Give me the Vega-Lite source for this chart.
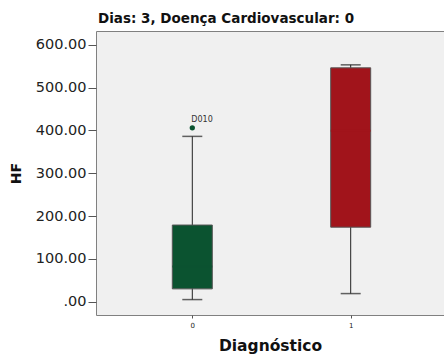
{
  "$schema": "https://vega.github.io/schema/vega-lite/v6.json",
  "width": 351,
  "height": 284,
  "autosize": {"type": "none"},
  "padding": {"left": 96, "top": 31, "right": 0, "bottom": 41},
  "background": "white",
  "title": {"text": "Dias: 3, Doença Cardiovascular: 0", "anchor": "start", "frame": "group", "font": "DejaVu Sans", "fontSize": 13.5, "fontWeight": "bold", "color": "#111", "offset": 6, "dx": 2},
  "config": {
    "view": {"fill": "#f0f0f0", "stroke": "#808080", "strokeWidth": 1},
    "axis": {"grid": false, "domain": false, "labelFont": "DejaVu Sans", "titleFont": "DejaVu Sans", "labelColor": "#222", "titleColor": "#111", "tickColor": "#555"}
  },
  "datasets": {
    "boxes": [
      {"Diagnostico": "0", "min": 5, "q1": 30, "median": 82, "q3": 179, "max": 386},
      {"Diagnostico": "1", "min": 19, "q1": 174, "median": 399, "q3": 546, "max": 553}
    ],
    "outliers": [
      {"Diagnostico": "0", "HF": 406, "label": "D010"}
    ]
  },
  "layer": [
    {
      "data": {"name": "boxes"},
      "mark": {"type": "rule", "color": "#222", "strokeWidth": 1},
      "encoding": {
        "x": {"field": "Diagnostico", "type": "ordinal", "scale": {"type": "point", "padding": 0.608}, "axis": {"title": "Diagnóstico", "titleX": 174, "labelAngle": 0, "labelFontSize": 7, "tickSize": 3, "labelPadding": 3, "titleFontSize": 15.5, "titleFontWeight": "bold", "titlePadding": 10}},
        "y": {"field": "min", "type": "quantitative", "scale": {"domain": [-31, 632], "nice": false, "zero": false}, "axis": {"title": "HF", "values": [0, 100, 200, 300, 400, 500, 600], "labelExpr": "datum.value == 0 ? '.00' : format(datum.value, '.2f')", "labelFontSize": 14.5, "tickSize": 8, "labelPadding": 2, "titleFontSize": 14, "titleFontWeight": "bold", "titlePadding": 12}},
        "y2": {"field": "max"}
      }
    },
    {
      "data": {"name": "boxes"},
      "mark": {"type": "tick", "color": "#222", "size": 20, "thickness": 1.5},
      "encoding": {
        "x": {"field": "Diagnostico", "type": "ordinal"},
        "y": {"field": "min", "type": "quantitative"}
      }
    },
    {
      "data": {"name": "boxes"},
      "mark": {"type": "tick", "color": "#222", "size": 20, "thickness": 1.5},
      "encoding": {
        "x": {"field": "Diagnostico", "type": "ordinal"},
        "y": {"field": "max", "type": "quantitative"}
      }
    },
    {
      "data": {"name": "boxes"},
      "mark": {"type": "bar", "size": 40, "stroke": "#555", "strokeWidth": 1},
      "encoding": {
        "x": {"field": "Diagnostico", "type": "ordinal"},
        "y": {"field": "q1", "type": "quantitative"},
        "y2": {"field": "q3"},
        "color": {"field": "Diagnostico", "type": "nominal", "scale": {"domain": ["0", "1"], "range": ["#0b5330", "#a1141b"]}, "legend": null}
      }
    },
    {
      "data": {"name": "boxes"},
      "mark": {"type": "tick", "size": 40, "thickness": 2},
      "encoding": {
        "x": {"field": "Diagnostico", "type": "ordinal"},
        "y": {"field": "median", "type": "quantitative"},
        "color": {"field": "Diagnostico", "type": "nominal", "scale": {"domain": ["0", "1"], "range": ["#021a0e", "#560a0e"]}, "legend": null}
      }
    },
    {
      "data": {"name": "outliers"},
      "mark": {"type": "point", "filled": true, "size": 28, "color": "#0b5330", "opacity": 1},
      "encoding": {
        "x": {"field": "Diagnostico", "type": "ordinal"},
        "y": {"field": "HF", "type": "quantitative"}
      }
    },
    {
      "data": {"name": "outliers"},
      "mark": {"type": "text", "align": "left", "baseline": "bottom", "dx": -1, "dy": -4, "fontSize": 8, "font": "DejaVu Sans", "color": "#333"},
      "encoding": {
        "x": {"field": "Diagnostico", "type": "ordinal"},
        "y": {"field": "HF", "type": "quantitative"},
        "text": {"field": "label"}
      }
    }
  ]
}
